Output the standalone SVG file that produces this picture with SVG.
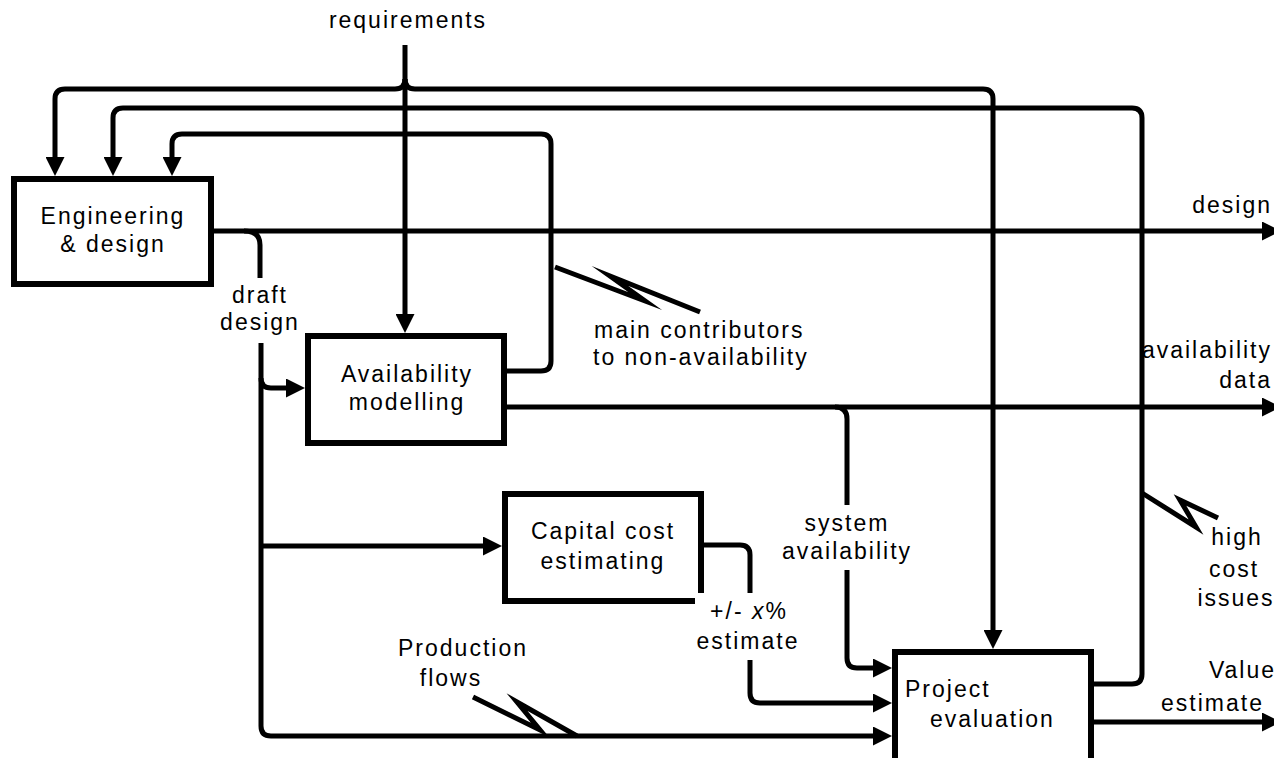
<svg xmlns="http://www.w3.org/2000/svg" width="1274" height="758" viewBox="0 0 1274 758">
<style>
.box{fill:#fff;stroke:#000;stroke-width:6;stroke-linejoin:miter}
.c{fill:none;stroke:#000;stroke-width:5;stroke-linejoin:round}
.sq{fill:none;stroke:#000;stroke-width:5;stroke-linejoin:miter;stroke-miterlimit:10}
text{font-family:"Liberation Sans",Arial,sans-serif;font-size:23px;letter-spacing:2px;fill:#000}
.m{text-anchor:middle}
.e{text-anchor:end}
</style>
<defs>
<marker id="ah" markerUnits="userSpaceOnUse" viewBox="0 0 19 19" markerWidth="19" markerHeight="19" refX="11" refY="9.5" orient="auto">
<path d="M0,0 L19,9.5 L0,19 z" fill="#000"/>
</marker>
</defs>
<rect width="1274" height="758" fill="#fff"/>
<g id="connectors">
<path class="c" d="M405,45 V325" marker-end="url(#ah)"/>
<path class="c" d="M405,79 Q405,89 395,89 H65 Q55,89 55,99 V168" marker-end="url(#ah)"/>
<path class="c" d="M405,79 Q405,89 415,89 H983 Q993,89 993,99 V641" marker-end="url(#ah)"/>
<path class="c" d="M1094,684 H1132 Q1142,684 1142,674 V118 Q1142,108 1132,108 H123 Q113,108 113,118 V168" marker-end="url(#ah)"/>
<path class="c" d="M507,371 H541 Q551,371 551,361 V144 Q551,134 541,134 H182 Q172,134 172,144 V168" marker-end="url(#ah)"/>
<path class="c" d="M214,231 H1273" marker-end="url(#ah)"/>
<path class="c" d="M244,231 Q260,231 260,245 V278"/>
<path class="c" d="M261,343 V726 Q261,736 271,736 H884" marker-end="url(#ah)"/>
<path class="c" d="M261,378 Q261,388 271,388 H297" marker-end="url(#ah)"/>
<path class="c" d="M261,546 H494" marker-end="url(#ah)"/>
<path class="c" d="M704,545 H740 Q750,545 750,555 V593"/>
<path class="c" d="M750,660 V693 Q750,703 760,703 H884" marker-end="url(#ah)"/>
<path class="c" d="M507,407 H1273" marker-end="url(#ah)"/>
<path class="c" d="M835,407 Q847,407 847,419 V505"/>
<path class="c" d="M847,570 V658 Q847,668 857,668 H884" marker-end="url(#ah)"/>
<path class="c" d="M1094,722 H1273" marker-end="url(#ah)"/>
<polyline class="sq" points="555,267 645,301 610,276 700,312"/>
<polyline class="sq" points="473,697 540,730 517,702 577,736"/>
<polyline class="sq" points="1142,493 1196,527 1180,500 1218,518"/>
</g>
<g id="engineering">
<rect class="box" x="14" y="179" width="197" height="105"/>
<text class="m" x="113" y="224">Engineering</text>
<text class="m" x="113" y="252">&amp; design</text>
</g>
<g id="availability">
<rect class="box" x="308" y="336" width="196" height="107"/>
<text class="m" x="407" y="382">Availability</text>
<text class="m" x="407" y="410">modelling</text>
</g>
<g id="capital">
<path class="box" d="M695,601 H505 V494 H701 V593"/>
<text class="m" x="603" y="539">Capital cost</text>
<text class="m" x="603" y="569">estimating</text>
</g>
<g id="project">
<rect class="box" x="895" y="652" width="196" height="130"/>
<text x="905" y="697">Project</text>
<text x="930" y="727">evaluation</text>
</g>
<g id="labels">
<text class="m" x="408" y="28">requirements</text>
<text class="e" x="1272" y="213">design</text>
<text class="m" x="260" y="303">draft</text>
<text class="m" x="260" y="330">design</text>
<text x="594" y="338">main contributors</text>
<text x="593" y="365">to non-availability</text>
<text class="e" x="1272" y="358">availability</text>
<text class="e" x="1272" y="388">data</text>
<text class="m" x="847" y="531">system</text>
<text class="m" x="847" y="559">availability</text>
<text class="m" x="749" y="619">+/- <tspan font-style="italic">x</tspan>%</text>
<text class="m" x="748" y="649">estimate</text>
<text class="m" x="463" y="656">Production</text>
<text class="m" x="451" y="686">flows</text>
<text class="m" x="1237" y="545">high</text>
<text class="m" x="1234" y="577">cost</text>
<text class="m" x="1236" y="606">issues</text>
<text class="e" x="1276" y="678">Value</text>
<text class="e" x="1264" y="711">estimate</text>
</g>
</svg>
